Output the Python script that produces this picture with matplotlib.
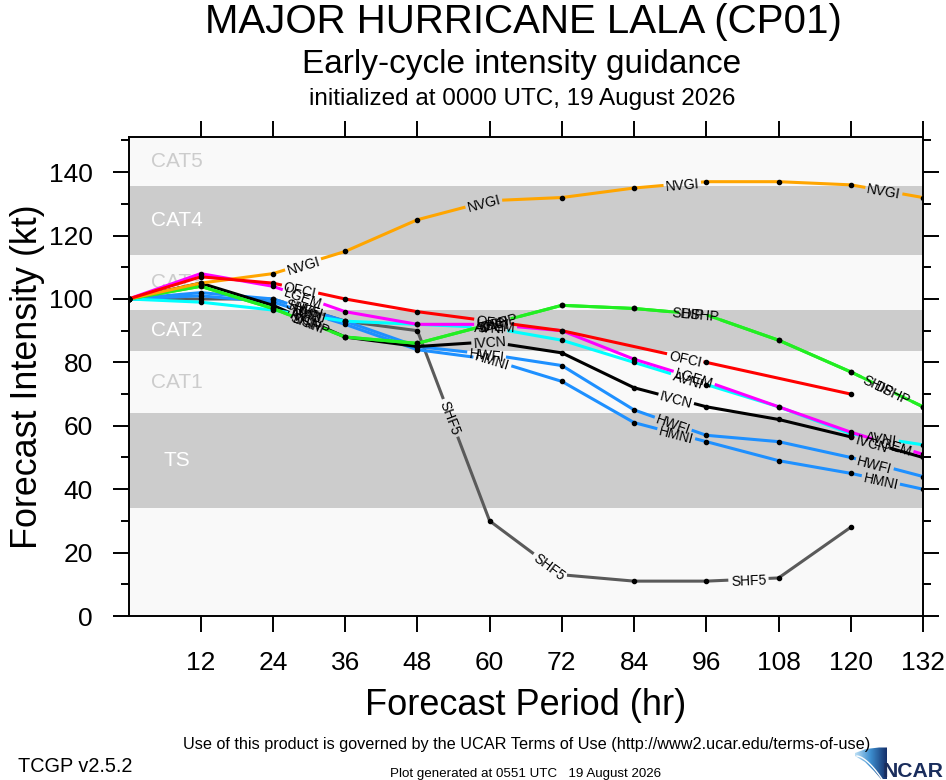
import numpy as np
import matplotlib
matplotlib.use("Agg")
import matplotlib.pyplot as plt
from matplotlib.font_manager import FontProperties
from matplotlib.textpath import TextPath
from matplotlib.patches import Polygon
from matplotlib.colors import LinearSegmentedColormap

# forecast hours and model intensities (kt), nan = no forecast
hours = [0, 12, 24, 36, 48, 60, 72, 84, 96, 108, 120, 132]
nan = np.nan
ofci = [100, 107, 105, 100, 96, 93, 90, nan, 80, nan, 70, nan]
nvgi = [100, 105, 108, 115, 125, 131, 132, 135, 137, 137, 136, 132]
ship = [100, 104, 97, 88, 86, 92, 98, 97, 95, 87, 77, 66]
dshp = [100, 104, 97, 88, 86, 92, 98, 97, 95, 87, 77, 66]
lgem = [100, 108, 104, 96, 92, 92, 90, 81, 74, 66, 58, 51]
avni = [100, 99, 96.5, 93, 92, 91, 87, 80, 73, 66, 57.5, 54]
ivcn = [100, 105, 98, 88, 85, 86.5, 83, 72, 66, 62, 56.5, 50]
hwfi = [100, 102, 100, 93, 85, 82.5, 79, 65, 57, 55, 50, 44]
hmni = [100, 101, 99, 92, 84, 81, 74, 61, 55, 49, 45, 40]
shf5 = [100, 100, 100, 93, 90, 30, 13, 11, 11, 12, 28, nan]

# drawing order: first is at the bottom
models = ["SHF5", "HMNI", "HWFI", "IVCN", "AVNI", "LGEM", "DSHP", "SHIP", "NVGI", "OFCI"]
values = {"OFCI": ofci, "NVGI": nvgi, "SHIP": ship, "DSHP": dshp, "LGEM": lgem,
          "AVNI": avni, "IVCN": ivcn, "HWFI": hwfi, "HMNI": hmni, "SHF5": shf5}
colors = {"OFCI": "#ff0000", "NVGI": "#ffa500", "SHIP": "#22ee22", "DSHP": "#22ee22",
          "LGEM": "#ff00ff", "AVNI": "#00ffff", "IVCN": "#000000", "HWFI": "#1e90ff",
          "HMNI": "#1e90ff", "SHF5": "#5a5a5a"}
# hours where the model name is written on its line
label_hours = {"OFCI": [28.5, 60.5, 92.5], "NVGI": [29, 59, 92, 125.5],
               "SHIP": [29.5, 60.5, 93, 124.5], "DSHP": [30.5, 61.5, 95, 127],
               "LGEM": [29, 61, 94, 127], "AVNI": [29.5, 60, 93, 125],
               "IVCN": [29.5, 60, 91, 123.5], "HWFI": [29.5, 59.5, 90.5, 124],
               "HMNI": [30, 60.5, 91, 125], "SHF5": [29, 53.5, 70, 103]}

# Saffir-Simpson bands
cat_names = ["TS", "CAT1", "CAT2", "CAT3", "CAT4", "CAT5"]
cat_lo = [34, 64, 83.5, 96.5, 114, 135.5]
cat_hi = [64, 83.5, 96.5, 114, 135.5, 151]

W, H = 946, 780
FONT = "Liberation Sans"
plt.rcParams["font.family"] = [FONT, "DejaVu Sans"]

LIGHT = "#f9f9f9"
GREY = "#cccccc"


def fx(px):
    return px / W


def fy(py):
    return 1 - py / H


def text_px(s, size):
    tp = TextPath((0, 0), s, size=size, prop=FontProperties(family=FONT))
    return tp.get_extents().width * 100 / 72.0


def arc_point(pts, s, u):
    i = np.searchsorted(s, u, side="right") - 1
    i = min(max(i, 0), len(s) - 2)
    t = (u - s[i]) / (s[i + 1] - s[i]) if s[i + 1] > s[i] else 0
    return pts[i] + t * (pts[i + 1] - pts[i])


def draw_track(ax, name, fs=10, lw=2.2):
    y = np.array(values[name], dtype=float)
    x = np.array(hours, dtype=float)
    ok = ~np.isnan(y)
    x, y = x[ok], y[ok]
    pts = ax.transData.transform(np.column_stack([x, y]))
    seg = np.hypot(*np.diff(pts, axis=0).T)
    s = np.concatenate([[0], np.cumsum(seg)])
    inv = ax.transData.inverted()
    gaps = []
    for lx in label_hours[name]:
        i = min(max(np.searchsorted(x, lx) - 1, 0), len(x) - 2)
        t = (lx - x[i]) / (x[i + 1] - x[i])
        sc = s[i] + t * seg[i]
        d = pts[i + 1] - pts[i]
        ang = np.degrees(np.arctan2(d[1], d[0]))
        w = text_px(name, fs) + 6
        gaps.append((sc - w / 2, sc + w / 2))
        px, py = inv.transform(pts[i] + t * d)
        ax.text(px, py, name, rotation=ang, rotation_mode="anchor", ha="center",
                va="center_baseline", fontsize=fs, color="black", zorder=6)
    # line pieces outside the label gaps
    gaps.sort()
    kept, cur = [], 0.0
    for a, b in gaps:
        if a > cur:
            kept.append((cur, min(a, s[-1])))
        cur = max(cur, b)
    if cur < s[-1]:
        kept.append((cur, s[-1]))
    for a, b in kept:
        if b - a < 1:
            continue
        piece = [arc_point(pts, s, a)]
        piece += [pts[k] for k in range(len(s)) if a < s[k] < b]
        piece.append(arc_point(pts, s, b))
        piece = inv.transform(np.array(piece))
        ax.plot(piece[:, 0], piece[:, 1], color=colors[name], lw=lw,
                solid_capstyle="butt", zorder=4)
    for k in range(len(s)):
        if not any(a <= s[k] <= b for a, b in gaps):
            ax.plot(x[k], y[k], "o", ms=3, color="black", zorder=5)


fig = plt.figure(figsize=(W / 100, H / 100), dpi=100)
ax = fig.add_axes([fx(128.5), fy(616), fx(923) - fx(128.5), fy(137.3) - fy(616)])
ax.set_xlim(0, 132)
ax.set_ylim(0, 151)
ax.set_facecolor(LIGHT)

for k, cname in enumerate(cat_names):
    grey = cname in ("TS", "CAT2", "CAT4")
    if grey:
        ax.axhspan(cat_lo[k], cat_hi[k], color=GREY, lw=0, zorder=1)
    ax.text(8, (cat_lo[k] + cat_hi[k]) / 2, cname, ha="center", va="center",
            fontsize=15, color="white" if grey else GREY, zorder=2)

for name in models:
    draw_track(ax, name)

ax.set_xticks(hours[1:])
ax.set_yticks(range(0, 141, 20))
ax.set_yticks(range(10, 151, 20), minor=True)
ax.tick_params(axis="both", which="major", direction="out", length=11.5, width=1.4,
               labelsize=19, pad=14, top=True, right=True, color="black")
ax.tick_params(axis="y", which="minor", direction="out", length=5.8, width=1.4,
               right=True)
for sp in ax.spines.values():
    sp.set_linewidth(1.4)

ax.set_xlabel("Forecast Period (hr)", fontsize=26)
ax.xaxis.set_label_coords(0.5, -0.186)
ax.xaxis.label.set_va("center")
ax.set_ylabel("Forecast Intensity (kt)", fontsize=25.8)
ax.yaxis.set_label_coords(-0.1265, 0.5)
ax.yaxis.label.set_va("center")

fig.text(fx(523), fy(33), "MAJOR HURRICANE LALA (CP01)", ha="center",
         va="baseline", fontsize=29)
fig.text(fx(522), fy(73), "Early-cycle intensity guidance", ha="center",
         va="baseline", fontsize=24)
fig.text(fx(522), fy(105), "initialized at 0000 UTC, 19 August 2026", ha="center",
         va="baseline", fontsize=17.5)

fig.text(fx(526.5), fy(749), "Use of this product is governed by the UCAR Terms of Use "
         "(http://www2.ucar.edu/terms-of-use)", ha="center", va="baseline",
         fontsize=11.7)
fig.text(fx(18), fy(772), "TCGP v2.5.2", ha="left", va="baseline", fontsize=14.3)
fig.text(fx(390), fy(777.5), "Plot generated at 0551 UTC   19 August 2026", ha="left",
         va="baseline", fontsize=9.6)

# NCAR logo: blue swoosh plus lettering
lax = fig.add_axes([fx(846), 0, fx(946) - fx(846), 47 / H])
lax.set_xlim(846, 946)
lax.set_ylim(780, 733)
lax.axis("off")
grad = np.linspace(0, 1, 64)[None, :] * np.ones((16, 1))
img = lax.imshow(grad, extent=(854, 887, 780, 746),
                 cmap=LinearSegmentedColormap.from_list("sw", ["#c4e4f7", "#3d8fd0", "#15306b"]),
                 aspect="auto", zorder=1)
sw = Polygon([(855, 753), (866, 749), (879, 747.5), (887, 747.5), (887, 779), (881, 779),
              (874, 771), (865, 762), (855, 756)], closed=True, transform=lax.transData)
img.set_clip_path(sw)
ta = np.linspace(0, 1, 20)
lax.plot(857 + 25 * ta, 756 + 23 * ta ** 1.6, color="white", lw=1.0, zorder=2)
lax.text(883, 777, "NCAR", ha="left", va="baseline", fontsize=15.2, weight="bold",
         color="#1a2d5c", zorder=3)

fig.savefig("out.png", dpi=100, facecolor="white")
